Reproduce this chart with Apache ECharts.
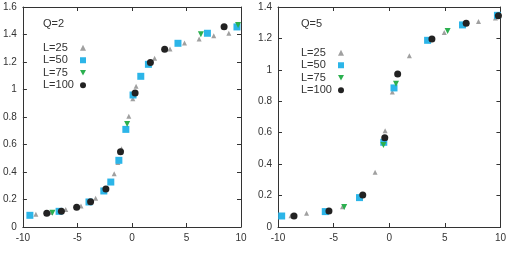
<!DOCTYPE html>
<html><head><meta charset="utf-8">
<script src="https://cdn.jsdelivr.net/npm/echarts@6/dist/echarts.min.js"></script>
<style>html,body{margin:0;padding:0;background:#fff}#c{width:509px;height:256px}</style>
</head><body><div id="c"></div>
<script>
// Q=2 panel
const q2_L25 = [[-8.81,0.092],[-7.45,0.106],[-6.07,0.128],[-4.67,0.153],[-3.33,0.209],[-1.63,0.388],[-1.29,0.47],[-0.96,0.57],[-0.29,0.805],[0.08,0.933],[0.38,1.023],[2.08,1.227],[3.49,1.295],[4.82,1.338],[6.16,1.367],[7.5,1.391],[8.88,1.409]];
const q2_L50 = [[-9.36,0.085],[-6.68,0.114],[-3.94,0.182],[-2.58,0.262],[-1.94,0.327],[-1.2,0.485],[-0.56,0.71],[0.1,0.96],[0.81,1.096],[1.51,1.183],[4.22,1.336],[6.92,1.409],[9.63,1.455]];
const q2_L75 = [[-7.29,0.104],[-0.44,0.749],[6.32,1.401],[9.73,1.469]];
const q2_L100 = [[-7.81,0.1],[-6.47,0.114],[-5.07,0.143],[-3.79,0.184],[-2.39,0.276],[-1.05,0.548],[0.29,0.975],[1.69,1.197],[3.0,1.293],[8.45,1.457]];
// Q=5 panel
const q5_L25 = [[-8.83,0.072],[-7.43,0.087],[-4.2,0.129],[-1.27,0.348],[-0.37,0.613],[0.28,0.859],[1.81,1.09],[4.95,1.237],[8.03,1.307],[9.55,1.33]];
const q5_L50 = [[-9.67,0.07],[-5.75,0.098],[-2.67,0.187],[-0.49,0.539],[0.43,0.885],[3.45,1.188],[6.59,1.286],[9.73,1.347]];
const q5_L75 = [[-4.05,0.127],[-0.52,0.522],[0.61,0.912],[5.25,1.247]];
const q5_L100 = [[-8.56,0.07],[-5.42,0.102],[-2.38,0.204],[-0.4,0.568],[0.76,0.974],[3.84,1.197],[6.92,1.296],[9.82,1.345]];

const names = ['L=25','L=50','L=75','L=100'];
const colors = ['#a0a0a0','#2cb5e8','#2bb04f','#222222'];
const symbols = ['triangle','rect','path://M0,0L10,0L5,9Z','circle'];
const sizes = [5,7,6,7];
const xTicks = {min:-10,max:10,interval:5};
const yMax = [1.6,1.4];

const chart = echarts.init(document.getElementById('c'));
const font = 'Liberation Sans';
const tc = '#333';
function xa(gi,pos,label){return {gridIndex:gi,type:'value',position:pos,min:xTicks.min,max:xTicks.max,interval:xTicks.interval,
  axisLine:{show:true,onZero:false,lineStyle:{color:'#333',width:1}},axisTick:{inside:true,length:4,lineStyle:{color:'#333'}},
  axisLabel:{show:label,color:tc,fontSize:10,fontFamily:font,margin:6},splitLine:{show:false}};}
function ya(gi,pos,label){return {gridIndex:gi,type:'value',position:pos,min:0,max:yMax[gi],interval:0.2,
  axisLine:{show:true,onZero:false,lineStyle:{color:'#333',width:1}},axisTick:{inside:true,length:4,lineStyle:{color:'#333'}},
  axisLabel:{show:label,color:tc,fontSize:10,fontFamily:font,margin:6},splitLine:{show:false}};}
const data = [[q2_L25,q2_L50,q2_L75,q2_L100],[q5_L25,q5_L50,q5_L75,q5_L100]];
const series = [];
for (let g=0; g<2; g++) for (let i=0;i<4;i++) series.push({
  name:names[i],type:'scatter',xAxisIndex:g*2,yAxisIndex:g*2,data:data[g][i],
  symbol:symbols[i],symbolSize:sizes[i],itemStyle:{color:colors[i],opacity:1},z:2+i});
function legend(left,top){return {left:left,top:top,orient:'vertical',align:'right',data:names,itemGap:0,padding:0,
  itemWidth:6,itemHeight:6,selectedMode:false,formatter:'{a|{name}}',
  textStyle:{color:tc,fontSize:11,fontFamily:font,lineHeight:12.5,rich:{a:{width:32,fontSize:11,lineHeight:12.5,fontFamily:font,color:tc,align:'left'}}}};}
chart.setOption({
  animation:false,
  title:[{text:'Q=2',left:38,top:13,textStyle:{fontSize:11,fontWeight:'normal',color:tc,fontFamily:font}},
         {text:'Q=5',left:296,top:13,textStyle:{fontSize:11,fontWeight:'normal',color:tc,fontFamily:font}}],
  legend:[legend(43,41.5),legend(301,46.5)],
  grid:[{left:22,right:268,top:7,bottom:29},{left:278,right:8,top:7,bottom:29}],
  xAxis:[xa(0,'bottom',true),xa(0,'top',false),xa(1,'bottom',true),xa(1,'top',false)],
  yAxis:[ya(0,'left',true),ya(0,'right',false),ya(1,'left',true),ya(1,'right',false)],
  series:series
});
</script></body></html>
